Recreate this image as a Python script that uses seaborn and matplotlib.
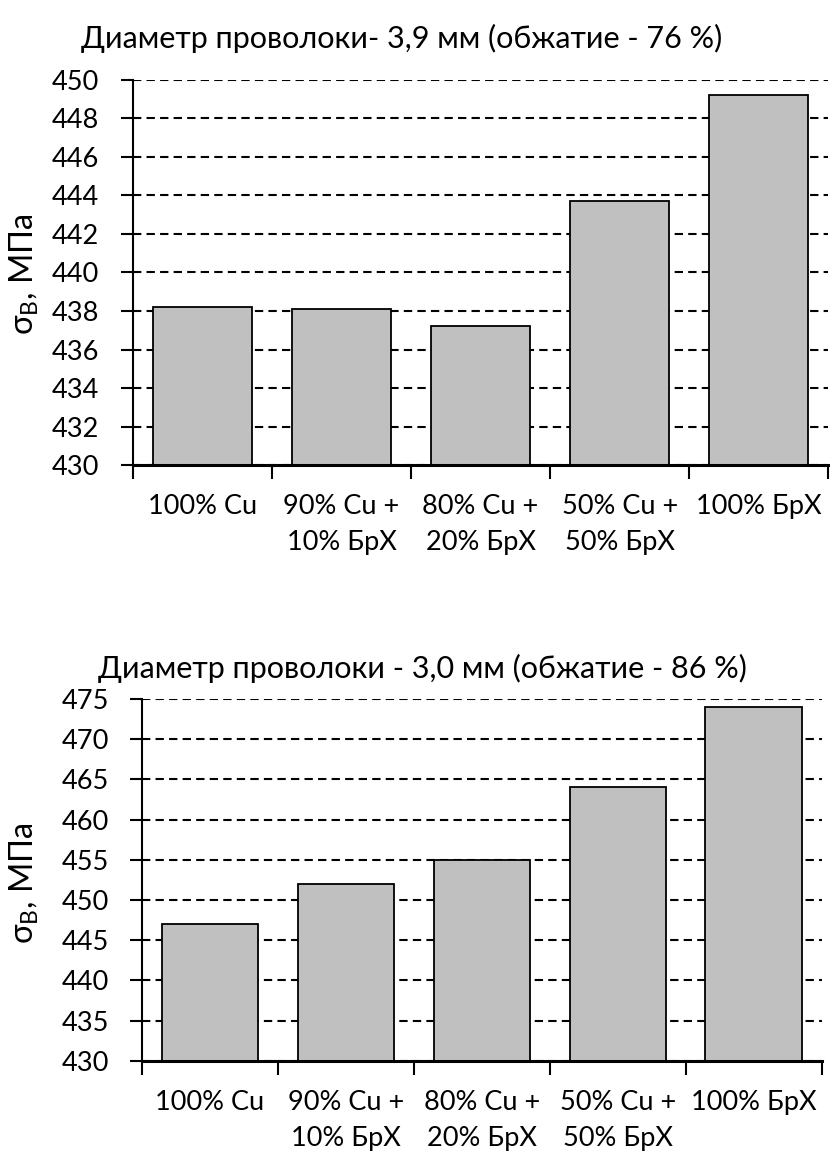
import matplotlib
matplotlib.use("Agg")
import matplotlib.pyplot as plt
import seaborn as sns
import pandas as pd
import numpy as np

categories = ["100% Cu", "90% Cu +\n10% БрХ", "80% Cu +\n20% БрХ", "50% Cu +\n50% БрХ", "100% БрХ"]
values_39 = [438.2, 438.1, 437.2, 443.7, 449.2]
values_30 = [447, 452, 455, 464, 474]
title_39 = "Диаметр проволоки- 3,9 мм (обжатие - 76 %)"
title_30 = "Диаметр проволоки - 3,0 мм (обжатие - 86 %)"
ylabel_text = "σ$_{\\mathregular{В}}$, МПа"
yticks_39 = np.arange(430, 451, 2)
yticks_30 = np.arange(430, 476, 5)

sns.set_theme(style="white")
plt.rcParams['font.family'] = ['Lato', 'DejaVu Sans']
plt.rcParams['mathtext.fontset'] = 'custom'
plt.rcParams['mathtext.rm'] = 'Lato'

fig = plt.figure(figsize=(8.3, 11.57), dpi=100)
ax1 = fig.add_axes([0.160, 0.598, 0.838, 0.333])
ax2 = fig.add_axes([0.171, 0.083, 0.819, 0.313])


def draw(ax, vals, yticks):
    df = pd.DataFrame({"cat": categories, "val": vals})
    sns.barplot(data=df, x="cat", y="val", ax=ax, color="#c0c0c0",
                edgecolor="black", linewidth=1.3, width=0.71, saturation=1)
    ax.set_ylim(yticks[0], yticks[-1])
    ax.set_xlim(-0.5, 4.5)
    ax.set_yticks(yticks)
    ax.set_axisbelow(True)
    ax.yaxis.grid(True, color="black", linestyle=(0, (4, 2.5)), linewidth=1.5)
    ax.xaxis.grid(False)
    for s in ["top", "right"]:
        ax.spines[s].set_visible(False)
    ax.spines["left"].set_color("black")
    ax.spines["left"].set_linewidth(1.5)
    ax.spines["bottom"].set_color("black")
    ax.spines["bottom"].set_linewidth(2.2)
    ax.set_xlabel("")
    ax.set_ylabel("")
    ax.tick_params(axis="y", left=True, direction="out", length=9, width=1.5,
                   color="black", labelsize=19.5, pad=15, labelcolor="black")
    ax.set_xticks(np.arange(-0.5, 5, 1), minor=True)
    ax.tick_params(axis="x", which="minor", bottom=True, direction="out",
                   length=10, width=1.5, color="black")
    ax.tick_params(axis="x", which="major", bottom=False, length=0,
                   labelsize=19.5, pad=21, labelcolor="black")
    for lbl in ax.get_xticklabels():
        lbl.set_linespacing(1.55)


draw(ax1, values_39, yticks_39)
draw(ax2, values_30, yticks_30)

fig.text(0.484, 1 - 38 / 1157, title_39, ha="center", va="center", fontsize=22, color="black")
fig.text(0.509, 1 - 668 / 1157, title_30, ha="center", va="center", fontsize=22, color="black")
fig.text(24 / 830, 1 - 274 / 1157, ylabel_text, rotation=90, ha="center", va="center", fontsize=23.5, color="black")
fig.text(24 / 830, 1 - 883 / 1157, ylabel_text, rotation=90, ha="center", va="center", fontsize=23.5, color="black")

fig.savefig("out.png", dpi=100, facecolor="white")
